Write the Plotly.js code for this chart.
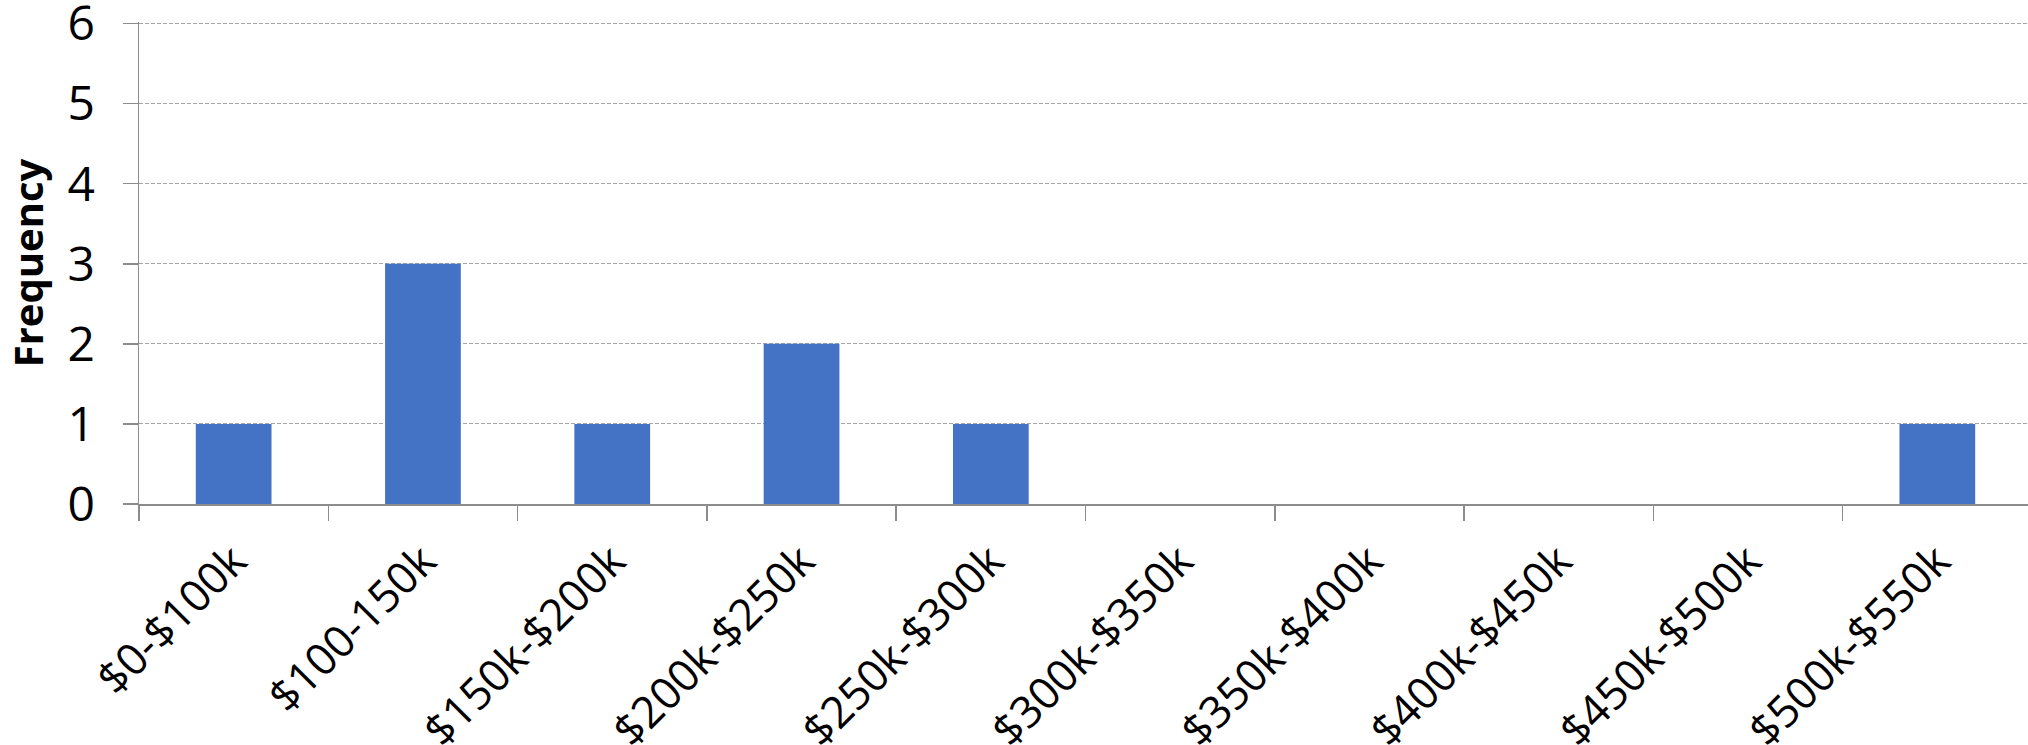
<!DOCTYPE html>
<html>
<head>
<meta charset="utf-8">
<script src="https://cdn.plot.ly/plotly-3.0.1.min.js"></script>
<style>html,body{margin:0;padding:0;background:#fff;}#chart{width:2028px;height:745px;}</style>
</head>
<body>
<div id="chart"></div>
<script>
const categories = ["$0-$100k","$100-150k","$150k-$200k","$200k-$250k","$250k-$300k","$300k-$350k","$350k-$400k","$400k-$450k","$450k-$500k","$500k-$550k"];
const frequency = [1, 3, 1, 2, 1, 0, 0, 0, 0, 1];
const yTicks = [0, 1, 2, 3, 4, 5, 6];

const trace = {
  type: 'bar',
  x: categories,
  y: frequency,
  marker: {color: '#4472C4'},
  hoverinfo: 'x+y'
};

const layout = {
  width: 2028,
  height: 745,
  margin: {l: 139, r: 0, t: 22, b: 241, pad: 0},
  paper_bgcolor: '#ffffff',
  plot_bgcolor: '#ffffff',
  bargap: 0.6,
  showlegend: false,
  font: {family: 'Open Sans, sans-serif', color: '#000000'},
  xaxis: {
    type: 'category',
    range: [-0.5, 9.479],
    tickson: 'boundaries',
    ticks: 'outside',
    ticklen: 15,
    tickwidth: 1.5,
    tickcolor: '#8c8c8c',
    showline: true,
    linecolor: '#8c8c8c',
    linewidth: 1.5,
    showgrid: false,
    zeroline: false,
    tickangle: -45,
    tickfont: {size: 44, family: 'Open Sans, sans-serif', color: '#000'},
    ticklabelstandoff: 12,
    ticklabeloverflow: 'allow',
    automargin: false
  },
  yaxis: {
    range: [0, 6.02],
    tickvals: yTicks,
    ticktext: yTicks.map(String),
    ticks: 'outside',
    ticklen: 15,
    tickwidth: 1.5,
    tickcolor: '#8c8c8c',
    showline: true,
    linecolor: '#8c8c8c',
    linewidth: 1.5,
    showgrid: true,
    gridcolor: '#a6a6a6',
    gridwidth: 1,
    griddash: '4px,2px',
    zeroline: false,
    tickfont: {size: 48, family: 'Open Sans, sans-serif', color: '#000'},
    ticklabelstandoff: 18,
    ticklabeloverflow: 'allow',
    title: {text: 'Frequency', font: {size: 40, family: 'Open Sans, sans-serif', weight: 'bold', color: '#000'}, standoff: 14},
    automargin: false
  }
};

Plotly.newPlot('chart', [trace], layout, {displayModeBar: false, staticPlot: true});
</script>
</body>
</html>
